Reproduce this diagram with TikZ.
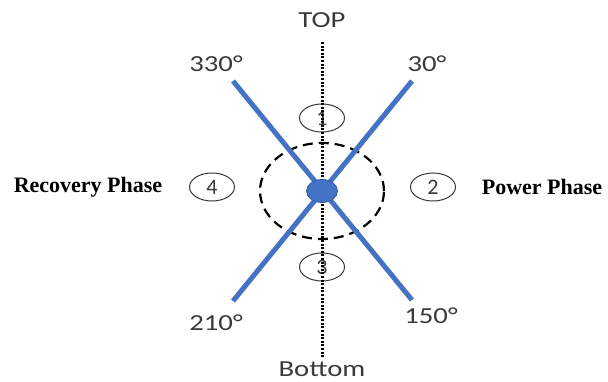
\documentclass[tikz,border=0pt]{standalone}
\usepackage{fontspec}
\setmainfont{Carlito}
\newfontfamily\serifbold{Liberation Serif}
\usetikzlibrary{shapes.geometric}
\definecolor{armblue}{HTML}{4472C4}
\definecolor{txtgrey}{HTML}{3A3A3A}
\tikzset{
  arm/.style={line width=5pt, draw=armblue},
  lbl/.style={text=txtgrey, font=\fontsize{23}{26}\selectfont, inner sep=0pt, xscale=1.25, transform shape},
  phase/.style={font=\serifbold\bfseries\fontsize{22}{24}\selectfont, inner sep=0pt},
  numov/.style={ellipse, draw=txtgrey, line width=1pt, minimum width=45pt, minimum height=28pt, inner sep=0pt, text=txtgrey, font=\fontsize{22}{24}\selectfont, fill=white},
}
\begin{document}
\begin{tikzpicture}[x=1pt,y=-1pt]
\useasboundingbox (0,0) rectangle (608,382);
% dashed circle
\node[ellipse, draw=black, dash pattern=on 10pt off 6pt, line width=2.2pt, minimum width=124pt, minimum height=96pt] (ring) at (322,191) {};
% number ovals
\node[numov] (n1) at (322,118) {1};
\node[numov] (n3) at (322,267) {3};
\node[numov] (n4) at (212,187) {4};
\node[numov] (n2) at (433,187) {2};
% vertical dotted axis
\coordinate (ax1) at (322,42);
\coordinate (ax2) at (322,358);
\draw[line width=3pt, dash pattern=on 2pt off 1.6pt, draw=black] (ax1) -- (ax2);
% arms
\coordinate (a330) at (233,81);
\coordinate (a150) at (412,300);
\coordinate (a30) at (412,81);
\coordinate (a210) at (233,301);
\draw[arm] (a330) -- (a150);
\draw[arm] (a30) -- (a210);
% hub
\node[ellipse, fill=armblue, draw=armblue!80!black, line width=0.8pt, minimum width=31pt, minimum height=23pt, inner sep=0pt] (hub) at (322,191) {};
% labels
\node[lbl] (top) at (322,20) {TOP};
\node[lbl] (bot) at (322,369) {Bottom};
\node[lbl] (l330) at (216,64) {330°};
\node[lbl] (l30) at (427,64) {30°};
\node[lbl] (l210) at (216,323) {210°};
\node[lbl] (l150) at (431,316) {150°};
\node[phase] (rec) at (88,187) {Recovery Phase};
\node[phase] (pow) at (542,187) {Power Phase};
\end{tikzpicture}
\end{document}
